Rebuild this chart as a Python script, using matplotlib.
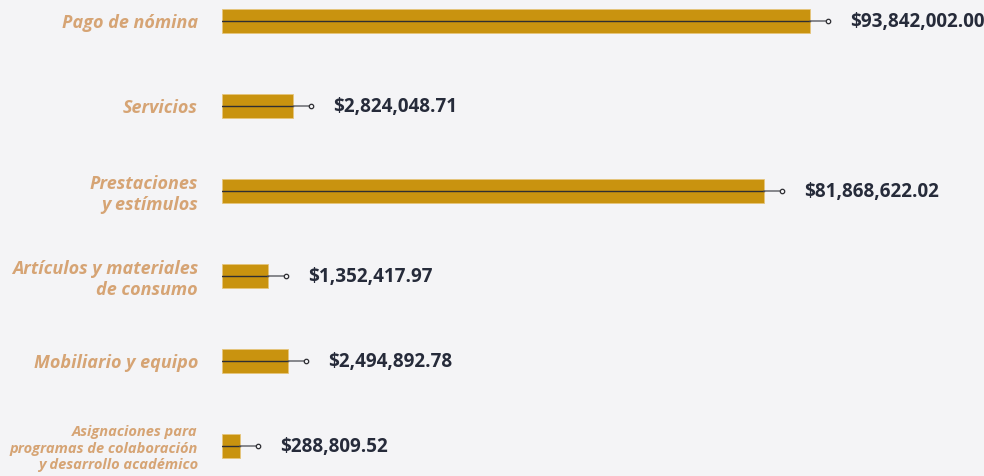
import numpy as np
import matplotlib
matplotlib.use("Agg")
import matplotlib.pyplot as plt
from matplotlib.transforms import offset_copy

# data
categorias = ["Pago de nómina", "Servicios", "Prestaciones\ny estímulos",
              "Artículos y materiales\nde consumo", "Mobiliario y equipo",
              "Asignaciones para\nprogramas de colaboración\ny desarrollo académico"]
montos = [93842002.00, 2824048.71, 81868622.02, 1352417.97, 2494892.78, 288809.52]
etiquetas = ["$93,842,002.00", "$2,824,048.71", "$81,868,622.02",
             "$1,352,417.97", "$2,494,892.78", "$288,809.52"]

bg = "#f4f4f6"
oro = "#c9930f"
tan = "#d6a474"
navy = "#262b3a"

plt.rcParams["font.family"] = ["Open Sans", "DejaVu Sans"]

fig = plt.figure(figsize=(9.84, 4.76), dpi=100, facecolor=bg)
ax = fig.add_axes([221.5 / 984, 0, 1 - 221.5 / 984, 1], facecolor=bg)

# power scale for the bar lengths
p = 0.6
fwd = lambda x: np.sign(x) * np.abs(x) ** p
inv = lambda x: np.sign(x) * np.abs(x) ** (1 / p)
ax.set_xscale("function", functions=(fwd, inv))

y = np.arange(len(montos))
ax.barh(y, montos, height=0.28, color=oro, edgecolor="#e6c57c", linewidth=0.6, zorder=2)

for yi, v, t in zip(y, montos, etiquetas):
    ax.plot([0, v], [yi, yi], color="#2e2e33", lw=1, zorder=3)
    ax.annotate("", xy=(v, yi), xytext=(12.96, 0), textcoords="offset points",
                arrowprops=dict(arrowstyle="-", color="#5a5b62", lw=1, shrinkA=0, shrinkB=0),
                zorder=3)
    tr = offset_copy(ax.transData, fig=fig, x=18, y=0, units="dots")
    ax.plot([v], [yi], marker="o", ms=3.2, mfc=bg, mec="#2e2e33", mew=0.9,
            transform=tr, zorder=4, clip_on=False)
    ax.annotate(t, xy=(v, yi), xytext=(28.8, -0.8), textcoords="offset points",
                ha="left", va="center", fontsize=13.6, fontweight="bold", color=navy)

ax.set_xlim(0, inv(fwd(max(montos)) / (588.5 / 762.5)))
ax.set_ylim(5 + 30 / 85, -21 / 85)

ax.set_yticks(y)
ax.set_yticklabels(categorias)
ax.tick_params(axis="y", length=0, pad=17)
for i, lab in enumerate(ax.get_yticklabels()):
    lab.set_color(tan)
    lab.set_fontstyle("italic")
    lab.set_fontweight("bold")
    lab.set_multialignment("right")
    lab.set_fontsize(10.5 if i == 5 else 13.0)
    lab.set_linespacing(1.2)

ax.set_xticks([])
for s in ax.spines.values():
    s.set_visible(False)

fig.savefig("out.png", dpi=100, facecolor=bg)
